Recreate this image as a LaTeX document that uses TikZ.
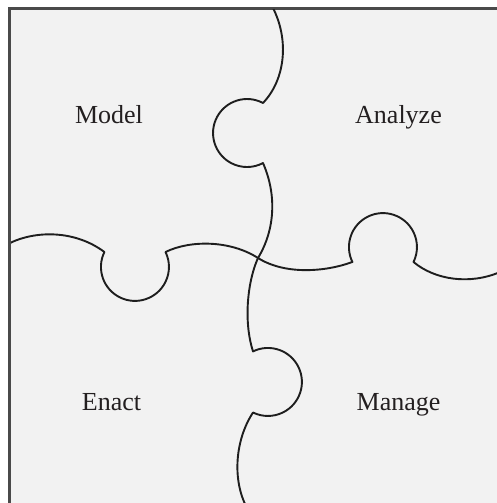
\documentclass[tikz,border=0pt]{standalone}
\usepackage{fontspec}
\setmainfont{Liberation Serif}
\definecolor{bgfill}{HTML}{F2F2F2}
\definecolor{edge}{HTML}{1E1E1E}
\definecolor{frame}{HTML}{4A4A4A}
\definecolor{txt}{HTML}{231F20}
\begin{document}
\begin{tikzpicture}[x=1pt,y=-1pt,
  cut/.style={draw=edge,line width=1.9pt,line join=round},
  label/.style={anchor=base,text=txt,inner sep=0pt,font=\fontsize{26}{30}\selectfont}]
\useasboundingbox (0,0) rectangle (497,503);
\fill[bgfill] (9,8) rectangle (497,503);
\draw[frame,line width=2.6pt] (9.5,503) -- (9.5,8.8) -- (497,8.8);
\begin{scope}
\clip (11,10) rectangle (497,503);
% vertical cut
\draw[cut] (272,6) .. controls (290,40) and (285,80) .. (263,103)
  arc[start angle=-62,end angle=-298,radius=34]
  .. controls (277,195) and (275,230) .. (258,258)
  .. controls (248,280) and (243,320) .. (253,351.4)
  arc[start angle=-116,end angle=116,radius=34]
  .. controls (235,440) and (232,480) .. (247,508);
% horizontal cut
\draw[cut] (8,244) .. controls (35,230) and (75,230) .. (104.4,252)
  arc[start angle=206,end angle=-26,radius=34]
  .. controls (190,240) and (230,240) .. (258,258)
  .. controls (285,275) and (325,272) .. (352.4,262)
  arc[start angle=154,end angle=386,radius=34]
  .. controls (435,280) and (470,285) .. (500,272);
\end{scope}
\node[label] (model) at (109,123) {Model};
\node[label] (analyze) at (398.5,123) {Analyze};
\node[label] (enact) at (111.5,410) {Enact};
\node[label] (manage) at (398.5,410) {Manage};
\end{tikzpicture}
\end{document}
